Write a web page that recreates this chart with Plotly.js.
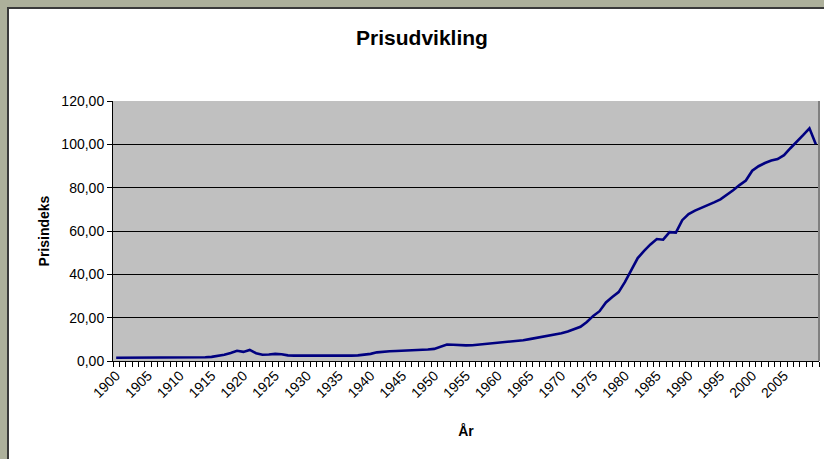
<!DOCTYPE html>
<html>
<head>
<meta charset="utf-8">
<script src="https://cdn.plot.ly/plotly-3.0.1.min.js"></script>
<style>
  html, body { margin: 0; padding: 0; background: #ADB09B; overflow: hidden; }
  #panel { position: absolute; left: 7px; top: 7px; width: 830px; height: 470px; background: #ffffff; border: 2px solid #3a3a3a; }
  #chart { position: absolute; left: 0; top: 0; width: 824px; height: 459px; }
</style>
</head>
<body>
<div id="panel"></div>
<div id="chart"></div>
<script>
// Years 1900..2010
const years = [];
for (let y = 1900; y <= 2010; y++) years.push(y);

const prisindeks = [
  // 1900-1909
  1.5, 1.5, 1.5, 1.5, 1.5, 1.5, 1.55, 1.6, 1.6, 1.6,
  // 1910-1919
  1.6, 1.6, 1.65, 1.7, 1.7, 1.9, 2.3, 2.9, 3.7, 4.7,
  // 1920-1929
  4.2, 5.1, 3.6, 2.9, 3.0, 3.3, 3.1, 2.6, 2.5, 2.5,
  // 1930-1939
  2.4, 2.3, 2.2, 2.2, 2.2, 2.3, 2.4, 2.5, 2.6, 2.9,
  // 1940-1949
  3.3, 4.0, 4.4, 4.5, 4.6, 4.7, 4.8, 4.9, 5.1, 5.3,
  // 1950-1959
  5.6, 6.5, 7.6, 7.5, 7.3, 7.2, 7.3, 7.6, 7.8, 8.0,
  // 1960-1969
  8.2, 8.5, 8.9, 9.3, 9.6, 10.1, 10.6, 11.2, 11.8, 12.3,
  // 1970-1979
  12.8, 13.6, 14.6, 15.8, 18.0, 20.8, 23.0, 27.0, 29.5, 31.8,
  // 1980-1989
  36.5, 42.0, 47.5, 50.8, 53.8, 56.3, 56.0, 59.5, 59.3, 65.0,
  // 1990-1999
  67.8, 69.4, 70.6, 72.0, 73.2, 74.6, 76.6, 78.8, 81.2, 83.3,
  // 2000-2010
  87.8, 89.9, 91.4, 92.5, 93.2, 95.0, 98.2, 101.0, 104.2, 107.4, 100.0
];

const xTickYears = [1900, 1905, 1910, 1915, 1920, 1925, 1930, 1935, 1940, 1945, 1950,
                    1955, 1960, 1965, 1970, 1975, 1980, 1985, 1990, 1995, 2000, 2005];
const yTickVals = [0, 20, 40, 60, 80, 100, 120];

const FONT = 'Liberation Sans, Arial, sans-serif';

const trace = {
  x: years,
  y: prisindeks,
  type: 'scatter',
  mode: 'lines',
  line: { color: '#000080', width: 2.6 },
  hoverinfo: 'skip'
};

const layout = {
  width: 824,
  height: 459,
  margin: { l: 113, r: 5, t: 101, b: 98 },
  paper_bgcolor: 'rgba(0,0,0,0)',
  plot_bgcolor: '#C0C0C0',
  separators: ',.',
  showlegend: false,
  font: { family: FONT, size: 14, color: '#000000' },
  title: {
    text: '<b>Prisudvikling</b>',
    font: { family: FONT, size: 21, color: '#000000' },
    xref: 'paper', x: 0.4377, xanchor: 'center',
    yref: 'container', y: 1 - 38 / 459, yanchor: 'middle'
  },
  xaxis: {
    range: [1899.5, 2010.5],
    tickmode: 'array',
    tickvals: xTickYears,
    ticktext: xTickYears.map(String),
    tickangle: -45,
    ticks: '',
    showgrid: false,
    zeroline: false,
    showline: true,
    linecolor: '#000000',
    linewidth: 1,
    tickfont: { family: FONT, size: 14, color: '#000000' },
    minor: { tick0: 1899.5, dtick: 1, ticks: 'outside', ticklen: 5, tickcolor: '#000000', tickwidth: 1, showgrid: false },
    title: { text: '<b>År</b>', font: { family: FONT, size: 14, color: '#000000' }, standoff: 26 }
  },
  yaxis: {
    range: [0, 120],
    tickmode: 'array',
    tickvals: yTickVals,
    tickformat: '.2f',
    ticks: 'outside',
    ticklen: 5,
    tickcolor: '#000000',
    showgrid: true,
    gridcolor: '#000000',
    gridwidth: 1,
    zeroline: false,
    showline: true,
    linecolor: '#000000',
    linewidth: 1,
    mirror: false,
    tickfont: { family: FONT, size: 14, color: '#000000' },
    title: { text: '<b>Prisindeks</b>', font: { family: FONT, size: 14, color: '#000000' }, standoff: 8 }
  },
  shapes: [
    { type: 'line', xref: 'paper', yref: 'paper', x0: 1, x1: 1, y0: 0, y1: 1,
      line: { color: '#808080', width: 2 } }
  ]
};

Plotly.newPlot('chart', [trace], layout, { staticPlot: true, displayModeBar: false });
</script>
</body>
</html>
